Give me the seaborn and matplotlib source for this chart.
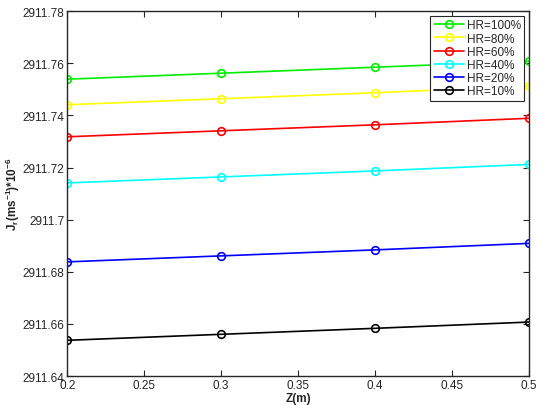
import pandas as pd
import seaborn as sns
from matplotlib import pyplot as plt

# data
z = [0.2, 0.3, 0.4, 0.5]
hr_labels = ['HR=100%', 'HR=80%', 'HR=60%', 'HR=40%', 'HR=20%', 'HR=10%']
hr100 = [2911.7539, 2911.7562, 2911.7585, 2911.7608]
hr80 = [2911.7441, 2911.7464, 2911.7487, 2911.7512]
hr60 = [2911.7318, 2911.7341, 2911.7364, 2911.7389]
hr40 = [2911.7141, 2911.7164, 2911.7187, 2911.7212]
hr20 = [2911.6838, 2911.6861, 2911.6884, 2911.6909]
hr10 = [2911.6537, 2911.6560, 2911.6583, 2911.6607]
colors = ['#00ee00', '#ffff00', '#ff0000', '#00ffff', '#0000ff', '#000000']

series = [hr100, hr80, hr60, hr40, hr20, hr10]
df = pd.DataFrame({
    'Z': z * len(series),
    'J': [v for s in series for v in s],
    'HR': [lab for lab in hr_labels for _ in z],
})

sns.set_style('white')
plt.rcParams['font.family'] = ['Liberation Sans', 'DejaVu Sans']
plt.rcParams['mathtext.default'] = 'regular'

fig = plt.figure(figsize=(5.42, 4.06), dpi=100)
ax = fig.add_axes([0.124, 0.0714, 0.852, 0.8986])

sns.lineplot(data=df, x='Z', y='J', hue='HR', hue_order=hr_labels,
             palette=colors, marker='o', markersize=5.5, markerfacecolor='none',
             markeredgewidth=1.2, linewidth=1.2, ax=ax)
# make marker edges match line colours
for line, c in zip(ax.get_lines(), colors):
    line.set_markeredgecolor(c)

ax.set_xlim(0.2, 0.5)
ax.set_ylim(2911.64, 2911.78)
ax.set_xticks([0.2, 0.25, 0.3, 0.35, 0.4, 0.45, 0.5])
ax.set_xticklabels(['0.2', '0.25', '0.3', '0.35', '0.4', '0.45', '0.5'])
ax.set_yticks([2911.64, 2911.66, 2911.68, 2911.7, 2911.72, 2911.74, 2911.76, 2911.78])
ax.set_yticklabels(['2911.64', '2911.66', '2911.68', '2911.7', '2911.72',
                    '2911.74', '2911.76', '2911.78'])
ax.tick_params(axis='both', which='both', direction='in', length=4, width=0.8,
               labelsize=8.5, top=True, right=True, bottom=True, left=True,
               colors='#262626', labelcolor='#262626', pad=2)
for sp in ax.spines.values():
    sp.set_color('#262626')
    sp.set_linewidth(1.0)

ax.set_xlabel('Z(m)', fontsize=8.5, fontweight='bold', labelpad=1)
ax.set_ylabel(r'J$_r$(ms$^{-1}$)*10$^{-6}$', fontsize=8.5, fontweight='bold')
ax.yaxis.set_label_coords(-0.098, 0.5)

handles, labels = ax.get_legend_handles_labels()
leg = ax.legend(handles, labels, loc='upper right', fontsize=8.5, frameon=True,
                fancybox=False, edgecolor='#262626', framealpha=1,
                labelspacing=0.1, handlelength=2.6, handletextpad=0.2,
                borderpad=0.3, borderaxespad=0.4)
leg.get_frame().set_linewidth(0.8)
for h, c in zip(leg.get_lines(), colors):
    h.set_marker('o')
    h.set_markersize(5.5)
    h.set_markerfacecolor('none')
    h.set_markeredgecolor(c)
    h.set_markeredgewidth(1.2)

fig.savefig('out.png', dpi=100)
